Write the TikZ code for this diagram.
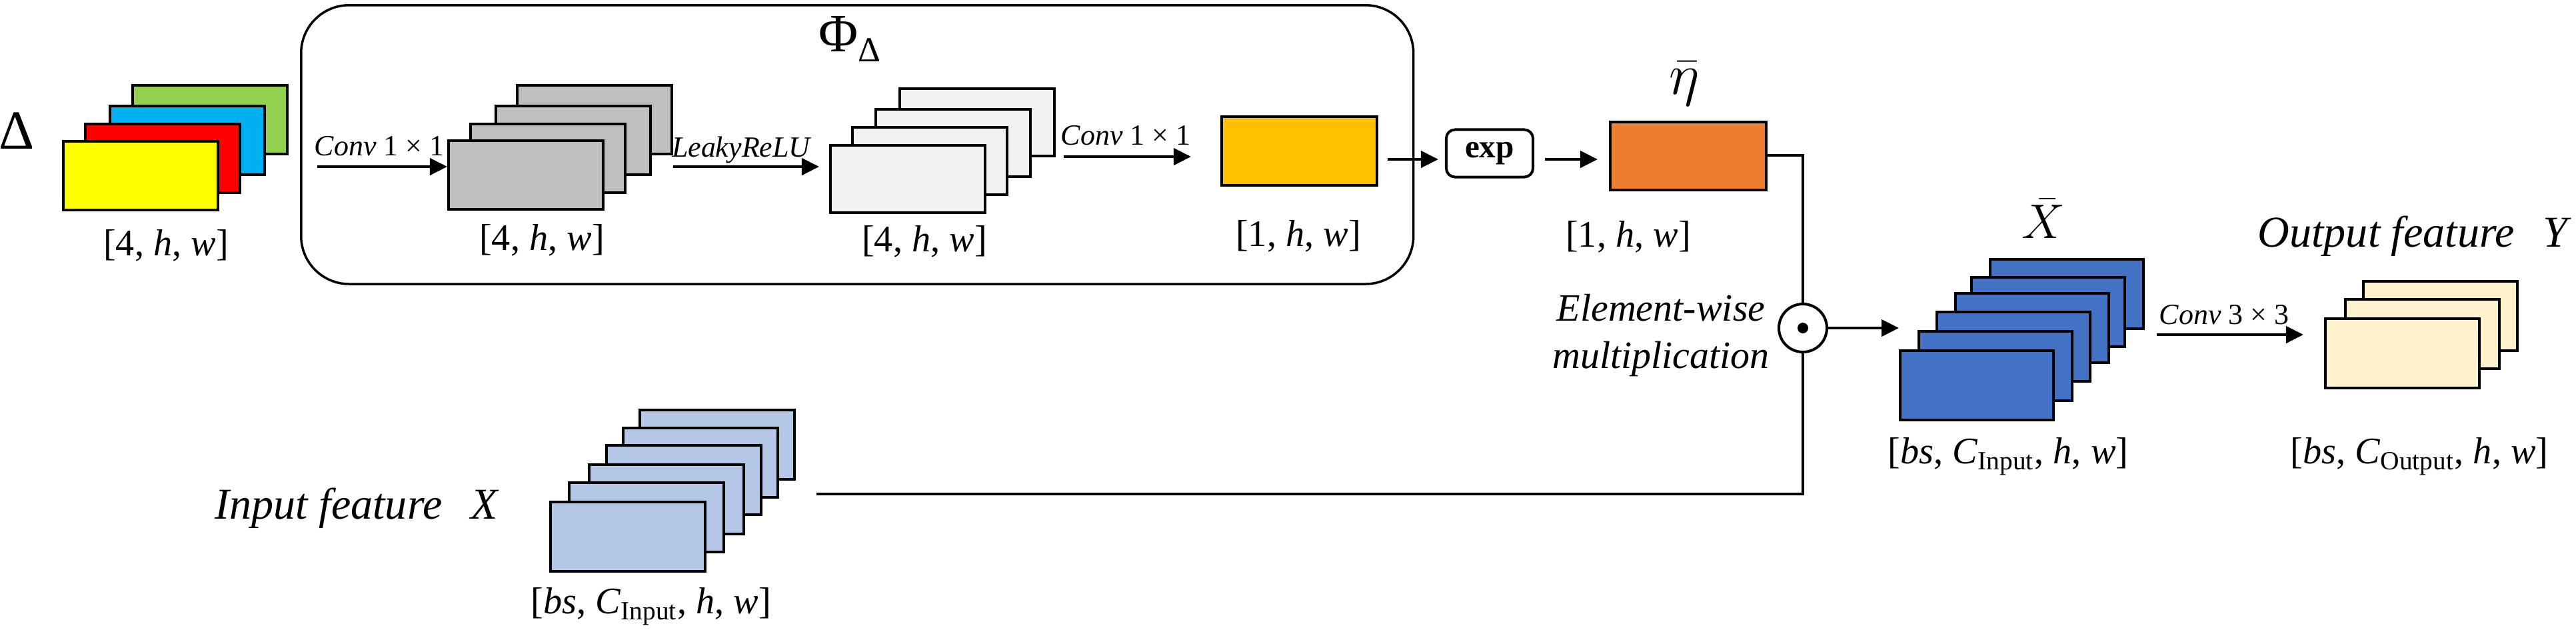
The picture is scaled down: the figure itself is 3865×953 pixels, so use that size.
\documentclass[tikz,border=0pt]{standalone}
\usepackage{fontspec}
\setmainfont{Liberation Serif}
\usetikzlibrary{arrows.meta}
\definecolor{cgreen}{HTML}{92D050}
\definecolor{ccyan}{HTML}{00B0F0}
\definecolor{cred}{HTML}{FF0000}
\definecolor{cyellow}{HTML}{FFFF00}
\definecolor{cgray}{HTML}{BFBFBF}
\definecolor{clight}{HTML}{F2F2F2}
\definecolor{cgold}{HTML}{FFC000}
\definecolor{corange}{HTML}{ED7D31}
\definecolor{cblue}{HTML}{4472C4}
\definecolor{clblue}{HTML}{B4C7E7}
\definecolor{ccream}{HTML}{FFF2CC}
\begin{document}
\begin{tikzpicture}[x=0.01cm,y=-0.01cm,
  fm/.style={draw=black, line width=0.04cm, inner sep=0pt, anchor=north west, minimum width=2.32cm, minimum height=1.03cm},
  arr/.style={line width=0.045cm, -{Triangle[length=0.26cm,width=0.25cm]}},
  conn/.style={line width=0.04cm},
  dimlab/.style={font=\fontsize{16}{19}\selectfont, inner sep=0pt},
  oplab/.style={font=\fontsize{12.5}{15}\selectfont, inner sep=0pt},
  biglab/.style={font=\fontsize{18.8}{22}\selectfont, inner sep=0pt}]
\useasboundingbox (0,0) rectangle (3865,953);

% Phi box
\node[draw, line width=0.035cm, rounded corners=0.72cm, minimum width=16.68cm, minimum height=4.18cm, anchor=north west, inner sep=0pt] (phibox) at (450,6) {};
\node[font=\fontsize{23}{26}\selectfont, inner sep=0pt, anchor=base west] (phi) at (1228,77) {Φ\raisebox{-4.5pt}{\fontsize{15}{17}\selectfont Δ}};

% Delta stack
\node[font=\fontsize{23.5}{26}\selectfont, inner sep=0pt] (dlt) at (25,196) {Δ};
\node[fm, fill=cgreen] (d4) at (197,126) {};
\node[fm, fill=ccyan] (d3) at (163,157) {};
\node[fm, fill=cred] (d2) at (126,184) {};
\node[fm, fill=cyellow] (d1) at (93,210) {};
\node[dimlab] (dl) at (249,368) {[4, \textit{h}, \textit{w}]};

% gray stack
\node[fm, fill=cgray] (g4) at (774,126) {};
\node[fm, fill=cgray] (g3) at (742,157) {};
\node[fm, fill=cgray] (g2) at (704,184) {};
\node[fm, fill=cgray] (g1) at (671,209) {};
\node[dimlab] (gl) at (813,360) {[4, \textit{h}, \textit{w}]};

% light stack
\node[fm, fill=clight, minimum height=1.01cm] (w4) at (1348,131) {};
\node[fm, fill=clight, minimum height=1.01cm] (w3) at (1312,162) {};
\node[fm, fill=clight, minimum height=1.01cm] (w2) at (1277,189) {};
\node[fm, fill=clight, minimum height=1.01cm] (w1) at (1244,216) {};
\node[dimlab] (wl) at (1387,362) {[4, \textit{h}, \textit{w}]};

% gold
\node[fm, fill=cgold, minimum width=2.33cm] (gold) at (1831,173) {};
\node[dimlab] (goldl) at (1948,354) {[1, \textit{h}, \textit{w}]};

% exp
\node[draw, line width=0.04cm, rounded corners=0.13cm, minimum width=1.3cm, minimum height=0.71cm, inner sep=0pt, font=\fontsize{14}{16}\selectfont\bfseries] (exp) at (2235,230) {exp};

% orange
\node[fm, fill=corange, minimum width=2.34cm, minimum height=1.02cm] (orange) at (2414,181) {};
\node[font=\fontsize{23}{26}\selectfont, inner sep=0pt] (eta) at (2527,126) {$\bar{\eta}$};
\node[dimlab] (orl) at (2443,355) {[1, \textit{h}, \textit{w}]};

% multiplication
\node[draw, circle, line width=0.04cm, minimum size=0.72cm, inner sep=0pt] (mul) at (2705,492) {};
\fill (mul.center) circle[radius=0.08cm];
\node[font=\fontsize{16.5}{20}\selectfont\itshape, align=center, inner sep=0pt] (mull) at (2492,503) {Element-wise\\multiplication};

% blue stack
\node[fm, fill=cblue, minimum width=2.30cm, minimum height=1.04cm] (b6) at (2984,387) {};
\node[fm, fill=cblue, minimum width=2.30cm, minimum height=1.04cm] (b5) at (2956,414) {};
\node[fm, fill=cblue, minimum width=2.30cm, minimum height=1.04cm] (b4) at (2932,438) {};
\node[fm, fill=cblue, minimum width=2.30cm, minimum height=1.04cm] (b3) at (2904,466) {};
\node[fm, fill=cblue, minimum width=2.30cm, minimum height=1.04cm] (b2) at (2877,495) {};
\node[fm, fill=cblue, minimum width=2.30cm, minimum height=1.04cm] (b1) at (2849,524) {};
\node[font=\fontsize{20}{24}\selectfont, inner sep=0pt] (xbar) at (3066,328) {$\bar{X}$};
\node[dimlab] (bl) at (3013,685) {[\textit{bs}, \textit{C}\textsubscript{Input}, \textit{h}, \textit{w}]};

% cream stack
\node[fm, fill=ccream, minimum width=2.31cm, minimum height=1.04cm] (c3) at (3544,420) {};
\node[fm, fill=ccream, minimum width=2.31cm, minimum height=1.04cm] (c2) at (3517,447) {};
\node[fm, fill=ccream, minimum width=2.31cm, minimum height=1.04cm] (c1) at (3487,476) {};
\node[biglab, anchor=base west] (outl) at (3387,370) {\textit{Output feature}\hspace{0.65em}\textit{Y}};
\node[dimlab] (cl) at (3630,685) {[\textit{bs}, \textit{C}\textsubscript{Output}, \textit{h}, \textit{w}]};

% light blue stack
\node[fm, fill=clblue, minimum height=1.04cm] (lb6) at (958,613) {};
\node[fm, fill=clblue, minimum height=1.04cm] (lb5) at (933,640) {};
\node[fm, fill=clblue, minimum height=1.04cm] (lb4) at (908,666) {};
\node[fm, fill=clblue, minimum height=1.04cm] (lb3) at (882,695) {};
\node[fm, fill=clblue, minimum height=1.04cm] (lb2) at (852,722) {};
\node[fm, fill=clblue, minimum height=1.04cm] (lb1) at (824,751) {};
\node[biglab, anchor=base west] (inl) at (322,778) {\textit{Input feature}\hspace{0.65em}\textit{X}};
\node[dimlab] (lbl) at (977,910) {[\textit{bs}, \textit{C}\textsubscript{Input}, \textit{h}, \textit{w}]};

% connectors
\coordinate (a1s) at (476,250);
\draw[arr] (a1s) -- (a1s -| g1.west);
\node[oplab] (l1) at (569,219) {\textit{Conv} 1 × 1};
\draw[arr] (g4.east |- a1s) -- ([xshift=-0.15cm]w1.west |- a1s);
\node[oplab] (l2) at (1113,225) {\textit{LeakyReLU}};

\coordinate (a2y) at (0,235);
\draw[arr] ([xshift=0.12cm]w4.east |- a2y) -- ([xshift=-0.44cm]gold.west |- a2y);
\node[oplab] (l3) at (1689,203) {\textit{Conv} 1 × 1};

\coordinate (a3y) at (0,239);
\draw[arr] ([xshift=0.14cm]gold.east |- a3y) -- ([xshift=-0.1cm]exp.west |- a3y);
\draw[arr] ([xshift=0.16cm]exp.east |- a3y) -- ([xshift=-0.17cm]orange.west |- a3y);

\coordinate (a4y) at (0,233);
\draw[conn] (orange.east |- a4y) -| (mul.north);
\coordinate (a5y) at (0,741);
\draw[conn] ([xshift=0.31cm]lb6.east |- a5y) -| (mul.south);
\draw[arr] (mul.east) -- (b1.west |- mul.east);

\coordinate (a6y) at (0,502);
\draw[arr] ([xshift=0.18cm]b6.east |- a6y) -- ([xshift=-0.31cm]c1.west |- a6y);
\node[oplab] (l4) at (3337,472) {\textit{Conv} 3 × 3};
\end{tikzpicture}
\end{document}
